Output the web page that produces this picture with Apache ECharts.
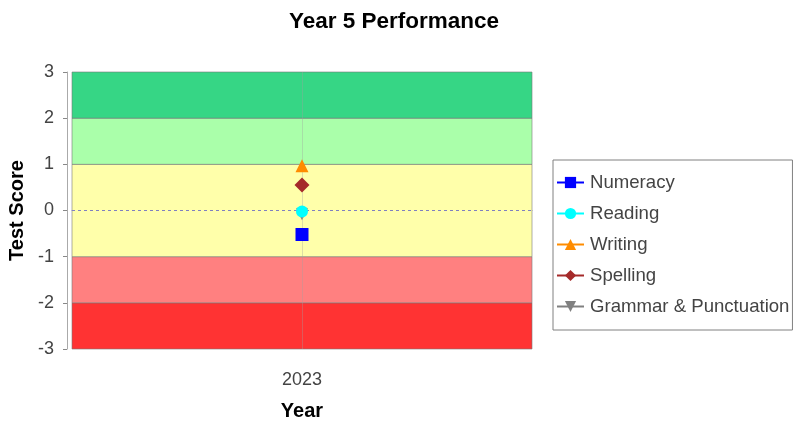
<!DOCTYPE html>
<html><head><meta charset="utf-8">
<script src="https://cdn.jsdelivr.net/npm/echarts@6/dist/echarts.min.js"></script>
<style>html,body{margin:0;padding:0;background:#fff}#c{width:804px;height:423px}</style>
</head><body><div id="c"></div>
<script>
var categories = ['2023'];
var numeracy = [-0.52];
var reading = [-0.02];
var writing = [0.97];
var spelling = [0.55];
var grammar = [-0.08];
var bandEdges = [-3, -2, -1, 1, 2, 3];
var bandColors = ['#ff3333', '#ff8080', '#ffffaa', '#aaffaa', '#36d685'];

var bands = [];
for (var i = 0; i < bandColors.length; i++) {
  bands.push([{yAxis: bandEdges[i], itemStyle: {color: bandColors[i]}}, {yAxis: bandEdges[i + 1]}]);
}
var font = 'Liberation Sans, Arial, sans-serif';
function mk(name, data, color, symbol, size, rot, extra) {
  var s = {
    name: name, type: 'line', data: data, symbol: symbol, symbolSize: size,
    symbolRotate: rot || 0, showAllSymbol: true,
    itemStyle: {color: color}, lineStyle: {color: color, width: 2},
    z: 5
  };
  if (extra) for (var k in extra) s[k] = extra[k];
  return s;
}
var chart = echarts.init(document.getElementById('c'), null, {renderer: 'canvas'});
chart.setOption({
  animation: false,
  backgroundColor: '#fff',
  title: {text: 'Year 5 Performance', left: 284, top: 5,
    textStyle: {fontFamily: font, fontSize: 22.5, fontWeight: 'bold', color: '#000'}},
  grid: {left: 72, right: 272, top: 72, bottom: 74, outerBoundsMode: 'none', containLabel: false},
  legend: {
    orient: 'vertical', left: 553, top: 160, width: 242,
    backgroundColor: '#fff', borderColor: '#808080', borderWidth: 1,
    padding: [13, 3, 14, 3], itemGap: 12, itemWidth: 27, itemHeight: 14,
    textStyle: {fontFamily: font, fontSize: 18.6, color: '#444', padding: [0, 0, 0, 1]},
    data: ['Numeracy', 'Reading', 'Writing', 'Spelling', 'Grammar & Punctuation']
  },
  xAxis: {
    type: 'category', data: categories, offset: 12,
    name: 'Year', nameLocation: 'middle', nameGap: 40,
    nameTextStyle: {fontFamily: font, fontSize: 20, fontWeight: 'bold', color: '#000'},
    axisLine: {lineStyle: {color: '#aaa'}},
    axisTick: {show: true, alignWithLabel: true, length: 4, lineStyle: {color: '#888'}},
    axisLabel: {fontFamily: font, fontSize: 18, color: '#444', margin: 10},
    splitLine: {show: false}
  },
  yAxis: {
    type: 'value', min: -3, max: 3, interval: 1, offset: 5,
    name: 'Test Score', nameLocation: 'middle', nameGap: 40, nameRotate: 90,
    nameMoveOverlap: false,
    nameTextStyle: {fontFamily: font, fontSize: 20, fontWeight: 'bold', color: '#000'},
    axisLine: {show: true, lineStyle: {color: '#aaa'}},
    axisTick: {show: true, length: 4, lineStyle: {color: '#888'}},
    axisLabel: {fontFamily: font, fontSize: 18, color: '#444', margin: 13},
    splitLine: {show: false}
  },
  series: [
    mk('Numeracy', numeracy, '#0000ff', 'rect', 13, 0, {
      markArea: {silent: true, data: bands,
        itemStyle: {borderColor: 'rgba(120,120,120,0.6)', borderWidth: 1}},
      markLine: {silent: true, symbol: 'none', label: {show: false},
        data: [
          {yAxis: 0, lineStyle: {color: '#8080c0', type: [3, 3], width: 1}},
          {xAxis: categories[0], lineStyle: {color: 'rgba(160,160,160,0.35)', type: 'solid', width: 1}}
        ]}
    }),
    mk('Reading', reading, '#00ffff', 'circle', 12, 0),
    mk('Writing', writing, '#ff8c00', 'triangle', 13, 0),
    mk('Spelling', spelling, '#a52a2a', 'diamond', 15, 0),
    mk('Grammar & Punctuation', grammar, '#808080', 'triangle', 12, 180, {z: 4})
  ]
});
</script></body></html>
